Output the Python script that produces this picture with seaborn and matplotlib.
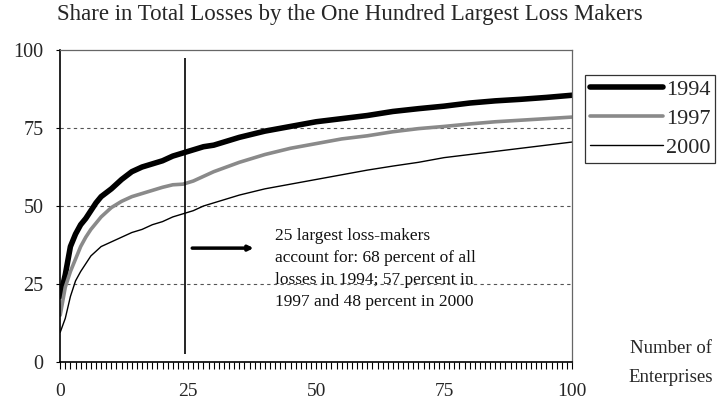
import matplotlib
matplotlib.use("Agg")
import matplotlib.pyplot as plt
import numpy as np
import pandas as pd
import seaborn as sns

# number of enterprises (ranked by size of loss)
enterprises = [0, 1, 2, 3, 4, 5, 6, 7, 8, 10, 12, 14, 16, 18, 20, 22, 24, 26, 28, 30,
               35, 40, 45, 50, 55, 60, 65, 70, 75, 80, 85, 90, 95, 100]

# cumulative share in total losses (percent)
share_1994 = [21, 28, 37, 41, 44, 46, 48.5, 51, 53, 55.5, 58.5, 61, 62.5, 63.5, 64.5, 66,
              67, 68, 69, 69.5, 72, 74, 75.5, 77, 78, 79, 80.3, 81.2, 82, 83, 83.7, 84.2,
              84.8, 85.5]
share_1997 = [15, 24, 29, 33, 37, 40, 42.5, 44.5, 46.5, 49.5, 51.5, 53, 54, 55, 56, 56.8,
              57, 58, 59.5, 61, 64, 66.5, 68.5, 70, 71.5, 72.5, 73.8, 74.8, 75.5, 76.3, 77,
              77.5, 78, 78.5]
share_2000 = [9.5, 14, 21, 26, 29, 31.5, 34, 35.5, 37, 38.5, 40, 41.5, 42.5, 44, 45, 46.5,
              47.5, 48.5, 50, 51, 53.5, 55.5, 57, 58.5, 60, 61.5, 62.8, 64, 65.5, 66.5, 67.5,
              68.5, 69.5, 70.5]

y_ticks = [0, 25, 50, 75, 100]
x_ticks = [0, 25, 50, 75, 100]

note = ("25 largest loss-makers\naccount for: 68 percent of all\n"
        "losses in 1994; 57 percent in\n1997 and 48 percent in 2000")

sns.set_theme(style="white")
plt.rcParams["font.family"] = ["Liberation Serif", "DejaVu Serif"]

df = pd.DataFrame({
    "n": enterprises * 3,
    "share": share_1994 + share_1997 + share_2000,
    "year": ["1994"] * len(enterprises) + ["1997"] * len(enterprises) + ["2000"] * len(enterprises),
})

fig = plt.figure(figsize=(7.25, 4), dpi=100)
ax = fig.add_axes([0.083, 0.095, 0.706, 0.78])

styles = {"1994": dict(color="black", lw=4.0),
          "1997": dict(color="#8a8a8a", lw=2.6),
          "2000": dict(color="black", lw=1.0)}
for year, st in styles.items():
    sns.lineplot(data=df[df["year"] == year], x="n", y="share", ax=ax,
                 label=year, legend=False, **st)

ax.set_xlim(0, 100)
ax.set_ylim(0, 100)
ax.set_xticks(x_ticks)
ax.set_xticks(np.arange(1, 100), minor=True)
ax.set_yticks(y_ticks)
ax.set_xlabel("")
ax.set_ylabel("")

for y in [25, 50, 75]:
    ax.axhline(y, color="#555555", lw=0.8, ls=(0, (3, 3)), zorder=0)

for side in ["left", "bottom"]:
    ax.spines[side].set_color("black")
    ax.spines[side].set_linewidth(1.2)
for side in ["top", "right"]:
    ax.spines[side].set_color("#666666")
    ax.spines[side].set_linewidth(0.9)
    ax.spines[side].set_linestyle((0, (2, 1)))

ax.tick_params(axis="x", which="both", direction="out", length=5, width=0.8,
               color="black", bottom=True, labelsize=14, pad=10)
ax.tick_params(axis="y", which="major", direction="out", length=3, width=0.8,
               color="black", left=True, labelsize=14.5, pad=9)

ax.vlines(24.4, 2.5, 97.5, color="black", lw=1.2)
ax.annotate("", xy=(37.8, 36.5), xytext=(25.8, 36.5),
            arrowprops=dict(arrowstyle="-|>", color="black", lw=2.5,
                            mutation_scale=7, shrinkA=0, shrinkB=0))
ax.text(41.9, 42.8, note, fontsize=12.5, va="top", ha="left", linespacing=1.5,
        color="#111111")

fig.text(0.483, 0.963, "Share in Total Losses by the One Hundred Largest Loss Makers",
         fontsize=16.5, ha="center", va="center")
fig.text(0.925, 0.092, "Number of\nEnterprises", fontsize=13.5, ha="center",
         va="center", linespacing=1.95)

handles, labels = ax.get_legend_handles_labels()
leg = fig.legend(handles, labels, loc="upper left", bbox_to_anchor=(0.807, 0.812),
                 frameon=True, fancybox=False, edgecolor="black", fontsize=16,
                 handlelength=3.3, handletextpad=0.15, labelspacing=0.38,
                 borderpad=0.2, borderaxespad=0)
leg.get_frame().set_linewidth(0.9)

fig.savefig("out.png", dpi=100)
